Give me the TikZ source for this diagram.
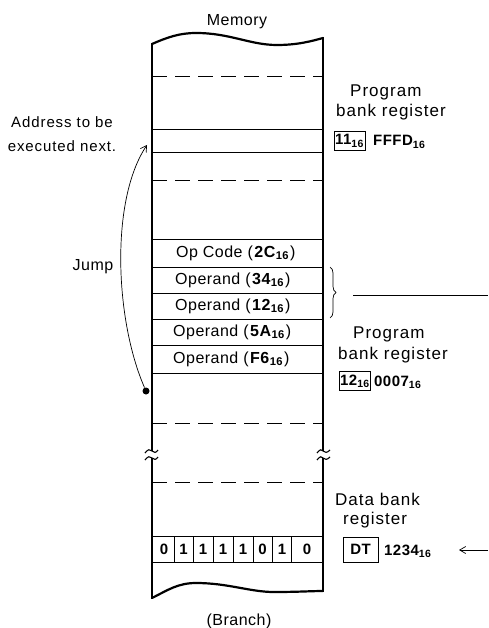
\documentclass[tikz,border=0pt]{standalone}
\usepackage{fontspec}
\setmainfont{Liberation Sans}[LetterSpace=3]
\usetikzlibrary{arrows.meta,decorations.pathreplacing}
\newcommand{\hexsub}{\textsubscript{\bfseries 16}}
\newcommand{\hx}[1]{\textbf{#1}\hexsub}
\newcommand{\opparen}[1]{\hspace{5pt}(\hspace{1pt}\hx{#1}\hspace{1pt})}
\begin{document}
\begin{tikzpicture}[x=1pt,y=-1pt,
  memedge/.style={line width=2.2pt},
  cellline/.style={line width=0.9pt},
  dashline/.style={line width=0.9pt, dash pattern=on 15pt off 8pt},
  txt/.style={inner sep=0pt, font=\fontsize{16}{19}\selectfont},
  optxt/.style={inner sep=0pt, anchor=west, font=\fontsize{16}{19}\selectfont},
  lbl/.style={inner sep=0pt, anchor=base west, font=\fontsize{17}{20}\selectfont\addfontfeatures{LetterSpace=6}},
  regbox/.style={draw, line width=0.8pt, inner sep=1pt, font=\fontsize{15}{17}\selectfont\bfseries, minimum height=19pt},
  regval/.style={inner sep=0pt, anchor=base west, font=\fontsize{15}{17}\selectfont\bfseries},
  bit/.style={inner sep=0pt, font=\fontsize{15}{17}\selectfont\bfseries},
  thinline/.style={line width=0.7pt},
  barb/.style={-{Straight Barb[length=6pt,width=7pt]}},
]
\useasboundingbox (0,0) rectangle (488,628);

% memory outline
\draw[memedge] (152,44) .. controls (168,37) and (180,33) .. (196,33)
  .. controls (230,33) and (250,45) .. (277,45)
  .. controls (298,45) and (312,41) .. (323,38);
\draw[memedge] (152,598) .. controls (168,590) and (178,583) .. (196,583)
  .. controls (228,583) and (250,592) .. (274,592)
  .. controls (298,592) and (312,591) .. (323,591);
\draw[memedge] (152,43) -- (152,451);
\draw[memedge] (152,458) -- (152,599);
\draw[memedge] (323,37) -- (323,451);
\draw[memedge] (323,458) -- (323,592);
% break marks
\draw[line width=1.1pt] (145,453) .. controls (148,449) and (150,449) .. (152,451) .. controls (154,453) and (156,453) .. (158,450);
\draw[line width=1.1pt] (145,460) .. controls (148,456) and (150,456) .. (152,458) .. controls (154,460) and (156,460) .. (158,457);
\draw[line width=1.1pt] (317,453) .. controls (320,449) and (322,449) .. (323,451) .. controls (325,453) and (327,453) .. (330,450);
\draw[line width=1.1pt] (317,460) .. controls (320,456) and (322,456) .. (323,458) .. controls (325,460) and (327,460) .. (330,457);

% cell lines
\draw[dashline] (152,76) -- (323,76);
\draw[cellline] (152,129) -- (323,129);
\draw[cellline] (152,152) -- (323,152);
\draw[dashline] (152,180) -- (323,180);
\foreach \yy in {239,267,293,319,345,373} {\draw[cellline] (152,\yy) -- (323,\yy);}
\draw[dashline] (152,423) -- (323,423);
\draw[dashline] (152,482) -- (323,482);
\draw[cellline] (152,536) -- (323,536);
\draw[cellline] (152,562) -- (323,562);
\foreach \xx in {174,193,213,233,253,272,291} {\draw[cellline] (\xx,536) -- (\xx,562);}

% op code rows
\node[optxt] (op1) at (176,253) {Op Code\opparen{2C}};
\node[optxt] (op2) at (175,280) {Operand\opparen{34}};
\node[optxt] (op3) at (175,306) {Operand\opparen{12}};
\node[optxt] (op4) at (173,332) {Operand\opparen{5A}};
\node[optxt] (op5) at (173,359) {Operand\opparen{F6}};

% bits
\node[bit] (b1) at (164,549) {0};
\node[bit] (b2) at (183.5,549) {1};
\node[bit] (b3) at (203,549) {1};
\node[bit] (b4) at (223,549) {1};
\node[bit] (b5) at (243,549) {1};
\node[bit] (b6) at (262.5,549) {0};
\node[bit] (b7) at (282,549) {1};
\node[bit] (b8) at (307,549) {0};

% titles
\node[txt, anchor=base] (memtitle) at (237,26) {Memory};
\node[txt, anchor=base] (branch) at (239,625) {(Branch)};

% left labels
\node[inner sep=0pt, anchor=base, font=\fontsize{15}{24}\selectfont\addfontfeatures{LetterSpace=6}, align=center] (addr) at (62,152) {Address to be\\executed next.};
\node[txt] (jumplbl) at (93,267) {Jump};

% jump arrow
\node[circle, fill, inner sep=0pt, minimum size=7pt] (jsrc) at (146,391) {};
\coordinate (jdst) at (147,145);
\draw[thinline, barb] (jsrc) .. controls (115,320) and (110,200) .. (jdst);

% right labels: first program bank register
\node[lbl] (pbr1a) at (350,97) {Program};
\node[lbl] (pbr1b) at (336,117) {bank register};
\node[regbox, minimum width=31pt] (pbr1box) at (349.5,141) {11\hexsub};
\node[regval] (pbr1val) at (373,146) {FFFD\hexsub};

% second program bank register
\node[lbl] (pbr2a) at (353,338) {Program};
\node[lbl] (pbr2b) at (338,359) {bank register};
\node[regbox, minimum width=30pt] (pbr2box) at (355,381) {12\hexsub};
\node[regval] (pbr2val) at (374,386) {0007\hexsub};

% data bank register
\node[lbl] (dbra) at (335,505) {Data bank};
\node[lbl] (dbrb) at (343,524) {register};
\node[regbox, minimum width=35pt, minimum height=25pt] (dbrbox) at (360.5,549.5) {DT};
\node[regval] (dbrval) at (384,555) {1234\hexsub};

% brace and line
\coordinate (bracetop) at (330,267);
\coordinate (bracebot) at (330,318);
\draw[thinline, decorate, decoration={brace, amplitude=6pt}] (bracetop) -- (bracebot);
\coordinate (linestart) at (353,295);
\coordinate (lineend) at (488,295);
\draw[line width=1pt] (linestart) -- (lineend);

% data bank arrow
\coordinate (dbarrowstart) at (488,550);
\coordinate (dbarrowend) at (459,550);
\draw[thinline, barb] (dbarrowstart) -- (dbarrowend);
\end{tikzpicture}
\end{document}
